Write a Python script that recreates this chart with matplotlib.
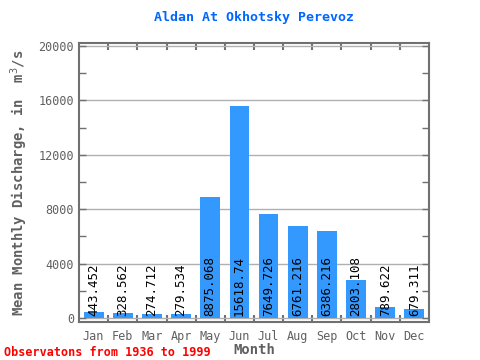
import matplotlib
matplotlib.use('Agg')
import matplotlib.pyplot as plt
import numpy as np

months = ['Jan', 'Feb', 'Mar', 'Apr', 'May', 'Jun', 'Jul', 'Aug', 'Sep', 'Oct', 'Nov', 'Dec']
flow = [443.452, 328.562, 274.712, 279.534, 8875.068, 15618.74,
        7649.726, 6761.216, 6386.216, 2803.108, 789.622, 679.311]
labels = ['443.452', '328.562', '274.712', '279.534', '8875.068', '15618.74',
          '7649.726', '6761.216', '6386.216', '2803.108', '789.622', '679.311']
yticks = [0, 4000, 8000, 12000, 16000, 20000]

plt.rcParams['font.family'] = 'DejaVu Sans Mono'
grey = '#707070'

fig = plt.figure(figsize=(4.8, 3.6), dpi=100)
ax = fig.add_axes([79 / 480, 1 - 322 / 360, 350 / 480, 279 / 360])

x = np.arange(1, 13)
ax.bar(x, flow, width=0.68, color='#3399ff', zorder=2)
for xi, lab in zip(x, labels):
    ax.text(xi, 150, lab, rotation=90, ha='center', va='bottom', fontsize=9, color='black', zorder=3)

ax.set_xlim(0.5, 12.5)
ax.set_ylim(-300, 20220)
ax.set_yticks(yticks)
ax.set_yticks(np.arange(0, 20001, 2000), minor=True)
ax.set_xticks(x)
ax.set_xticklabels(months)
ax.set_xticks(np.arange(1.5, 12.5, 1), minor=True)
ax.yaxis.grid(True, color='#b0b0b0', lw=1, zorder=1)
ax.tick_params(axis='x', which='major', length=0, labelsize=8.5, labelcolor='#606060', pad=6)
ax.tick_params(axis='x', which='minor', direction='in', length=5, width=1.5, color=grey, top=True)
ax.tick_params(axis='y', which='both', direction='in', length=5, width=1, color=grey, right=True,
               labelsize=8.5, labelcolor='#606060')
for s in ax.spines.values():
    s.set_color(grey)
    s.set_linewidth(1.5)

ax.set_title('Aldan At Okhotsky Perevoz', color='#0066ff', fontsize=9.5, fontweight='bold', pad=16)
ax.set_xlabel('Month', fontsize=10, color='#606060', fontweight='bold', labelpad=0)
ax.set_ylabel('Mean Monthly Discharge, in  m$^3$/s', fontsize=10, color='#606060', fontweight='bold',
              labelpad=6)
fig.text(4 / 480, 1 - 352 / 360, 'Observatons from 1936 to 1999', color='red', fontsize=8.5,
         fontweight='bold', va='center')

fig.savefig('out.png', dpi=100)
